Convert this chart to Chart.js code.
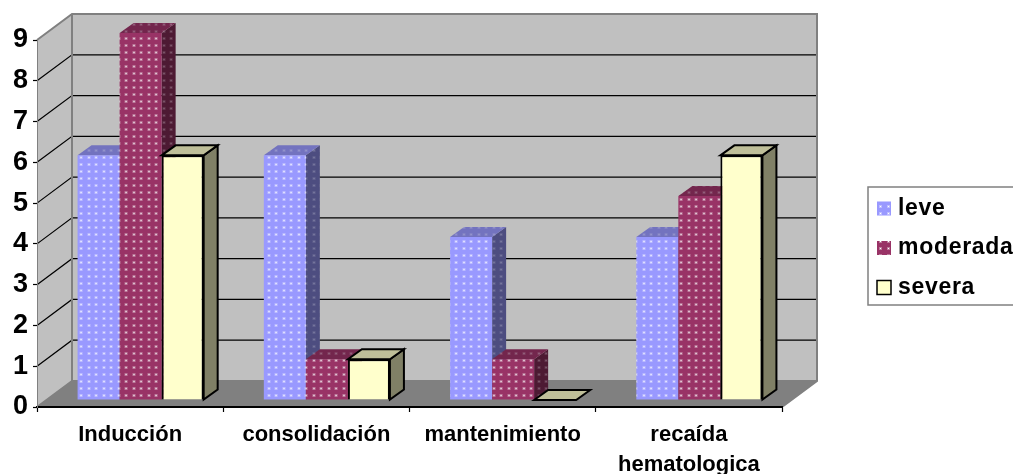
<!DOCTYPE html>
<html lang="es">
<head>
    <meta charset="UTF-8">
    <title>Leucemia por fase</title>
    <script src="https://cdn.jsdelivr.net/npm/chart.js"></script>
    <style>
        html, body { margin: 0; padding: 0; background: #fff; overflow: hidden; }
        canvas { display: block; }
    </style>
</head>
<body>
    <canvas id="barChart" width="1013" height="474"></canvas>

    <script>
        const categories = ['Inducción', 'consolidación', 'mantenimiento', ['recaída', 'hematologica']];
        const seriesNames = ['leve', 'moderada', 'severa'];
        const leve = [6, 6, 4, 4];
        const moderada = [9, 1, 1, 5];
        const severa = [6, 1, 0, 6];
        const yTicks = [0, 1, 2, 3, 4, 5, 6, 7, 8, 9];

        const FONT = 'Arial, "Liberation Sans", sans-serif';

        // box depth of the plot and of each bar, in pixels
        const WALL_DX = 35, WALL_DY = 26;
        const BAR_DX = 14, BAR_DY = 10;
        // bars stand a little behind the front edge of the floor
        const BAR_SHIFT_X = 10.5, BAR_SHIFT_Y = -7;

        function dotted(base, dot) {
            const tile = document.createElement('canvas');
            tile.width = 15;
            tile.height = 14;
            const c = tile.getContext('2d');
            c.fillStyle = base;
            c.fillRect(0, 0, 15, 14);
            [[3, 3], [10, 3], [3, 10], [10, 10]].forEach(([x, y]) => {
                c.globalAlpha = 0.35;
                c.fillStyle = dot;
                c.fillRect(x - 1, y - 1, 3, 3);
                c.globalAlpha = 1;
                c.fillRect(x, y, 1, 1);
            });
            return c.createPattern(tile, 'repeat');
        }

        const ctx = document.getElementById('barChart').getContext('2d');

        const faces = [
            { front: dotted('#9999FF', '#FFFFFF'), side: dotted('#4D4D80', '#8888AA'), top: dotted('#7373BF', '#A0A0D0'), line: null },
            { front: dotted('#993366', '#FFFFFF'), side: dotted('#4D1A33', '#8F6F80'), top: dotted('#73264D', '#A07890'), line: null },
            { front: '#FFFFCC', side: '#808066', top: '#BFBF99', line: '#000000' }
        ];

        function poly(c, pts, fill, line) {
            c.beginPath();
            pts.forEach(([x, y], i) => i ? c.lineTo(x, y) : c.moveTo(x, y));
            c.closePath();
            c.fillStyle = fill;
            c.fill();
            if (line) {
                c.strokeStyle = line;
                c.lineWidth = 2;
                c.lineJoin = 'miter';
                c.stroke();
            }
        }

        const box3d = {
            id: 'box3d',
            // walls, floor and grid behind the bars
            beforeDraw(chart) {
                const c = chart.ctx;
                const { left, right, top, bottom } = chart.chartArea;
                const y = chart.scales.y;

                poly(c, [[left, top], [left + WALL_DX, top - WALL_DY], [left + WALL_DX, bottom - WALL_DY], [left, bottom]], '#C0C0C0');
                poly(c, [[left + WALL_DX, top - WALL_DY], [right + WALL_DX, top - WALL_DY], [right + WALL_DX, bottom - WALL_DY], [left + WALL_DX, bottom - WALL_DY]], '#C0C0C0');
                poly(c, [[left, bottom], [left + WALL_DX, bottom - WALL_DY], [right + WALL_DX, bottom - WALL_DY], [right, bottom]], '#808080');

                c.strokeStyle = '#000000';
                c.lineWidth = 1.2;
                c.beginPath();
                yTicks.slice(1, -1).forEach(v => {
                    const py = y.getPixelForValue(v);
                    c.moveTo(left, py);
                    c.lineTo(left + WALL_DX, py - WALL_DY);
                    c.lineTo(right + WALL_DX, py - WALL_DY);
                });
                c.stroke();

                c.strokeStyle = '#808080';
                c.lineWidth = 2;
                c.beginPath();
                c.moveTo(left, top);
                c.lineTo(left + WALL_DX, top - WALL_DY);
                c.lineTo(right + WALL_DX, top - WALL_DY);
                c.lineTo(right + WALL_DX, bottom - WALL_DY);
                c.lineTo(right, bottom);
                c.moveTo(left + WALL_DX, top - WALL_DY);
                c.lineTo(left + WALL_DX, bottom - WALL_DY);
                c.lineTo(left, bottom);
                c.moveTo(left + WALL_DX, bottom - WALL_DY);
                c.lineTo(right + WALL_DX, bottom - WALL_DY);
                c.stroke();
            },
            // series go back to front from the left, so each bar's faces get
            // covered by the next series; the default draw order is the reverse
            beforeDatasetsDraw(chart) {
                const c = chart.ctx;
                c.save();
                c.translate(BAR_SHIFT_X, BAR_SHIFT_Y);
                seriesNames.forEach((name, i) => {
                    const f = faces[i];
                    chart.getDatasetMeta(i).data.forEach(bar => {
                        const l = bar.x - bar.width / 2, r = bar.x + bar.width / 2;
                        const t = bar.y, b = bar.base;
                        if (b - t > 0) {
                            poly(c, [[r, t], [r + BAR_DX, t - BAR_DY], [r + BAR_DX, b - BAR_DY], [r, b]], f.side, f.line);
                        }
                        poly(c, [[l, t], [l + BAR_DX, t - BAR_DY], [r + BAR_DX, t - BAR_DY], [r, t]], f.top, f.line);
                        bar.draw(c);
                    });
                });
                c.restore();
                return false;
            },
            afterDraw(chart) {
                const c = chart.ctx;
                c.save();
                c.fillStyle = '#FFFFFF';
                c.strokeStyle = '#808080';
                c.lineWidth = 1.5;
                c.fillRect(868, 187, 160, 118);
                c.strokeRect(868, 187, 160, 118);
                c.font = 'bold 23px ' + FONT;
                c.letterSpacing = '0.7px';
                c.textBaseline = 'middle';
                seriesNames.forEach((name, i) => {
                    const cy = 208.5 + i * 39.5;
                    c.fillStyle = faces[i].front;
                    c.fillRect(877, cy - 7, 14, 14);
                    if (faces[i].line) {
                        c.strokeStyle = faces[i].line;
                        c.lineWidth = 1.5;
                        c.strokeRect(877, cy - 7, 14, 14);
                    }
                    c.fillStyle = '#000000';
                    c.fillText(name, 898, cy);
                });
                c.restore();
            }
        };

        new Chart(ctx, {
            type: 'bar',
            data: {
                labels: categories,
                datasets: [
                    { label: seriesNames[0], data: leve, backgroundColor: faces[0].front, borderWidth: 0 },
                    { label: seriesNames[1], data: moderada, backgroundColor: faces[1].front, borderWidth: 0 },
                    { label: seriesNames[2], data: severa, backgroundColor: faces[2].front, borderColor: '#000000', borderWidth: 2 }
                ]
            },
            options: {
                responsive: false,
                animation: false,
                layout: { padding: { top: 40, right: 231, left: 0, bottom: 0 } },
                datasets: { bar: { barPercentage: 1, categoryPercentage: 0.677 } },
                scales: {
                    x: {
                        afterFit(scale) { scale.height = 67; },
                        border: { color: '#000000', width: 2 },
                        grid: { drawOnChartArea: false, color: '#000000', tickLength: 5, tickWidth: 1.2 },
                        ticks: {
                            color: '#000000',
                            padding: 8,
                            maxRotation: 0,
                            font: { family: FONT, size: 22, weight: 'bold', lineHeight: 1.36 }
                        }
                    },
                    y: {
                        min: 0,
                        max: 9,
                        afterFit(scale) { scale.width = 37; },
                        border: { color: '#808080', width: 1 },
                        grid: { drawOnChartArea: false, color: '#000000', tickLength: 4, tickWidth: 1.2 },
                        ticks: {
                            color: '#000000',
                            stepSize: 1,
                            padding: 5,
                            font: { family: FONT, size: 27, weight: 'bold' }
                        }
                    }
                },
                plugins: {
                    legend: { display: false },
                    tooltip: { enabled: false }
                }
            },
            plugins: [box3d]
        });
    </script>
</body>
</html>
